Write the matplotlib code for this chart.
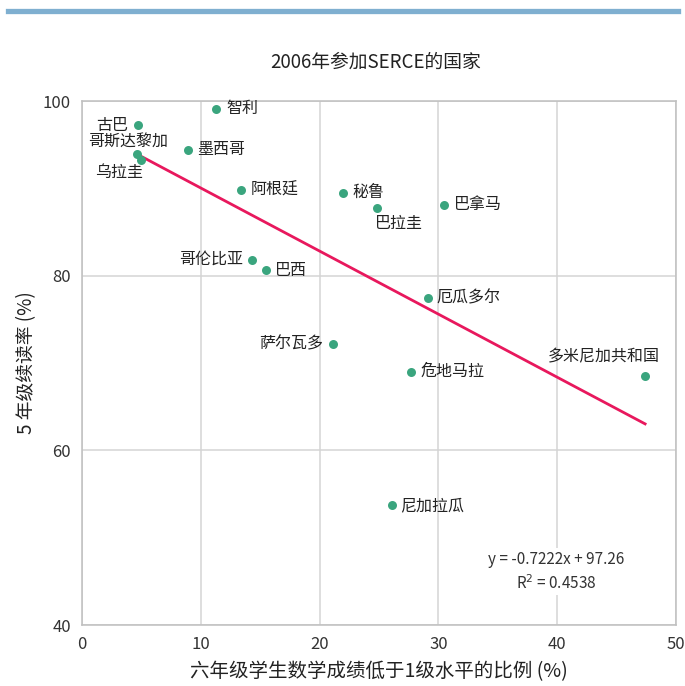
import matplotlib
matplotlib.use("Agg")
import matplotlib.pyplot as plt
import numpy as np
from matplotlib.lines import Line2D

plt.rcParams["font.family"] = ["Noto Sans CJK SC", "DejaVu Sans"]

countries = ["古巴", "智利", "哥斯达黎加", "乌拉圭", "墨西哥", "阿根廷", "哥伦比亚", "巴西",
             "秘鲁", "巴拉圭", "巴拿马", "厄瓜多尔", "萨尔瓦多", "危地马拉", "多米尼加共和国", "尼加拉瓜"]
math_below_level1 = [4.7, 11.3, 4.6, 5.0, 8.9, 13.4, 14.3, 15.5,
                     22.0, 24.85, 30.5, 29.1, 21.15, 27.7, 47.4, 26.1]
reading_rate = [97.25, 99.1, 93.9, 93.2, 94.4, 89.8, 81.8, 80.6,
                89.5, 87.8, 88.1, 77.4, 72.2, 69.0, 68.5, 53.7]

slope = -0.7222
intercept = 97.26
r_squared = 0.4538

# label offsets in pixels (dx, dy, ha)
label_pos = {
    "古巴": (-10, 0, "right"),
    "智利": (10, 0, "left"),
    "哥斯达黎加": (-9, 12, "center"),
    "乌拉圭": (-22, -12, "center"),
    "墨西哥": (9, 0, "left"),
    "阿根廷": (9, 0, "left"),
    "哥伦比亚": (-9, 1, "right"),
    "巴西": (9, 0, "left"),
    "秘鲁": (9, 0, "left"),
    "巴拉圭": (-2, -16, "left"),
    "巴拿马": (10, 0, "left"),
    "厄瓜多尔": (9, 0, "left"),
    "萨尔瓦多": (-10, 0, "right"),
    "危地马拉": (9, 0, "left"),
    "多米尼加共和国": (-41, 19, "center"),
    "尼加拉瓜": (8, 0, "left"),
}

fig = plt.figure(figsize=(6.85, 6.86), dpi=100)
ax = fig.add_axes([82 / 685, 1 - 625 / 686, (676 - 82) / 685, (625 - 101) / 686])

# top band
fig.add_artist(Line2D([8 / 685, 678 / 685], [1 - 11 / 686] * 2, color="#7FAFD0", linewidth=3.8,
                      transform=fig.transFigure))

ax.set_xlim(0, 50)
ax.set_ylim(40, 100)
ax.set_xticks(np.arange(0, 51, 10))
ax.set_yticks(np.arange(40, 101, 20))
ax.grid(True, color="#D4D4D4", linewidth=1.1)
ax.set_axisbelow(True)
for side in ax.spines.values():
    side.set_color("#BFBFBF")
    side.set_linewidth(1.1)
ax.tick_params(length=0, labelsize=12, colors="#333333", pad=8)

ax.scatter(math_below_level1, reading_rate, s=42, color="#3AA57E", zorder=3, linewidths=0)

xs = np.array([min(math_below_level1), max(math_below_level1)])
ax.plot(xs, slope * xs + intercept, color="#E8185D", linewidth=2, zorder=2)

for name, x, y in zip(countries, math_below_level1, reading_rate):
    dx, dy, ha = label_pos[name]
    ax.annotate(name, (x, y), xytext=(dx, dy), textcoords="offset pixels",
                ha=ha, va="center", fontsize=11.5, color="#222222", zorder=4)

ax.text(39.9, 46.1, f"y = {slope}x + {intercept}\nR$^2$ = {r_squared}", ha="center", va="center",
        fontsize=11, color="#333333", linespacing=1.4,
        bbox=dict(facecolor="white", edgecolor="none", pad=2), zorder=4)

fig.text(376 / 685, 1 - 62 / 686, "2006年参加SERCE的国家", ha="center", va="center",
         fontsize=13.5, color="#222222")
ax.set_xlabel("六年级学生数学成绩低于1级水平的比例 (%)", fontsize=14, color="#222222", labelpad=6)
ax.set_ylabel("5 年级续读率 (%)", fontsize=13.5, color="#222222", labelpad=4)

fig.savefig("out.png", dpi=100)
